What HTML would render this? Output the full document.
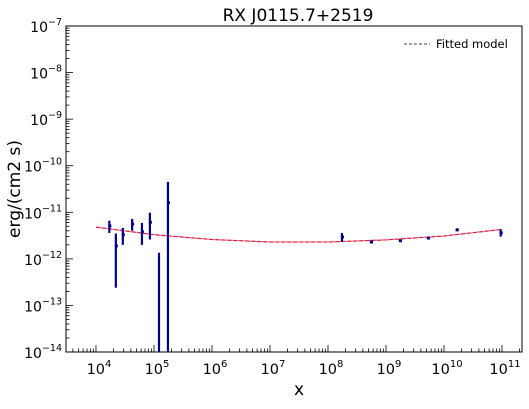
<!DOCTYPE html>
<html><head><meta charset="utf-8"><style>
body{margin:0;background:#fff;font-family:"Liberation Sans","DejaVu Sans",sans-serif}
</style></head><body>
<svg id="chart" width="529" height="404" xmlns="http://www.w3.org/2000/svg" font-family="'DejaVu Sans','Liberation Sans',sans-serif">
<rect width="529" height="404" fill="#fff"/>
<g id="plot"></g>
</svg>
<script>
const xs = [1.7e4,2.2e4,2.9e4,4.2e4,6.2e4,8.5e4,1.22e5,1.74e5,1.74e8,5.5e8,1.74e9,5.3e9,1.66e10,9.5e10];
const ys = [5.1e-12,1.9e-12,3.3e-12,5.6e-12,3.8e-12,6.1e-12,2e-13,1.6e-11,2.95e-12,2.3e-12,2.45e-12,2.8e-12,4.2e-12,3.6e-12];
const yLo = [3.6e-12,2.4e-13,2.0e-12,4.0e-12,2.0e-12,2.6e-12,1e-15,1e-15,2.3e-12,2.15e-12,2.3e-12,2.65e-12,3.95e-12,3.0e-12];
const yHi = [6.6e-12,3.5e-12,4.6e-12,7.2e-12,5.9e-12,9.8e-12,1.35e-12,4.5e-11,3.6e-12,2.5e-12,2.6e-12,2.95e-12,4.5e-12,4.3e-12];
const showDot = [1,1,1,1,1,1,0,1,1,1,1,1,1,1];
const modelX = [1e4,1e5,1e6,1e7,1e8,1e9,1e10,1e11];
const modelY = [4.8e-12,3.3e-12,2.6e-12,2.3e-12,2.3e-12,2.55e-12,3.1e-12,4.3e-12];
const xTicks = [4,5,6,7,8,9,10,11];
const yTicks = [-14,-13,-12,-11,-10,-9,-8,-7];

const NS="http://www.w3.org/2000/svg";
const L=66,R=522,T=26,B=352;
const xmin=3.483,xmax=11.345,ymin=-14,ymax=-7;
const X=v=>L+(Math.log10(v)-xmin)/(xmax-xmin)*(R-L);
const Y=v=>B-(Math.log10(v)-ymin)/(ymax-ymin)*(B-T);
const g=document.getElementById('plot');
function mk(tag,at){const e=document.createElementNS(NS,tag);for(const k in at)e.setAttribute(k,at[k]);g.appendChild(e);return e;}
function clampY(v){return Math.min(B,Math.max(T,Y(v)));}

let d='';
for(let i=0;i<modelX.length;i++){d+=(i?'L':'M')+X(modelX[i]).toFixed(1)+' '+Y(modelY[i]).toFixed(1);}
let m1=mk('path',{d:d,fill:'none',stroke:'#f08ca0','stroke-width':1.3});


let m2=mk('path',{d:d,fill:'none',stroke:'#e0103a','stroke-width':1,'stroke-dasharray':'4 2'});



for(let i=0;i<xs.length;i++){
  const x=X(xs[i]);
  let eb=mk('line',{x1:x,x2:x,y1:clampY(yLo[i]),y2:clampY(yHi[i]),stroke:'#00008b','stroke-width':2.2});
  
  
  if(showDot[i]){
    let p=mk('rect',{x:x-1,y:Y(ys[i])-1.5,width:3,height:3,fill:'#00008b'});
    
    
  }
}

let fr=mk('rect',{x:L,y:T,width:R-L,height:B-T,fill:'none',stroke:'#000','stroke-width':1});



for(let e=3;e<=11;e++){
  for(let k=1;k<10;k++){
    const v=k*Math.pow(10,e);const lv=Math.log10(v);
    if(lv<xmin||lv>xmax)continue;
    const x=X(v);const len=k===1?7:3.5;
    let t=mk('line',{x1:x,x2:x,y1:B,y2:B-len,stroke:'#000','stroke-width':0.8});
    
    
  }
}
xTicks.forEach(e=>{
  const x=X(Math.pow(10,e));
  let t=mk('text',{x:x+3,y:B+22,'text-anchor':'middle','font-size':14.5});
  
  
  t.innerHTML='10<tspan dy="-7" font-size="10">'+e+'</tspan>';
});
for(let e=-14;e<-7;e++){
  for(let k=1;k<10;k++){
    const v=k*Math.pow(10,e);const y=Y(v);const len=k===1?7:3.5;
    let t=mk('line',{x1:L,x2:L+len,y1:y,y2:y,stroke:'#000','stroke-width':0.8});
    
    
  }
}
yTicks.forEach(e=>{
  const y=Y(Math.pow(10,e));
  let t=mk('text',{x:L-4,y:y+6,'text-anchor':'end','font-size':14});
  
  
  t.innerHTML='10<tspan dy="-7" font-size="9.5">\u2212'+Math.abs(e)+'</tspan>';
});

let tt=mk('text',{x:(L+R)/2+4,y:21,'text-anchor':'middle','font-size':17});


tt.textContent='RX J0115.7+2519';
let xl=mk('text',{x:(L+R)/2+5,y:395,'text-anchor':'middle','font-size':17});


xl.textContent='x';
let yl=mk('text',{x:0,y:0,'text-anchor':'middle','font-size':17,transform:'translate(20,189) rotate(-90)'});


yl.textContent='erg/(cm2 s)';

let ll=mk('line',{x1:404,x2:430,y1:44,y2:44,stroke:'#000','stroke-width':0.8,'stroke-dasharray':'3 2'});


let lt=mk('text',{x:436,y:48,'font-size':11.5});


lt.textContent='Fitted model';
</script>
</body></html>
